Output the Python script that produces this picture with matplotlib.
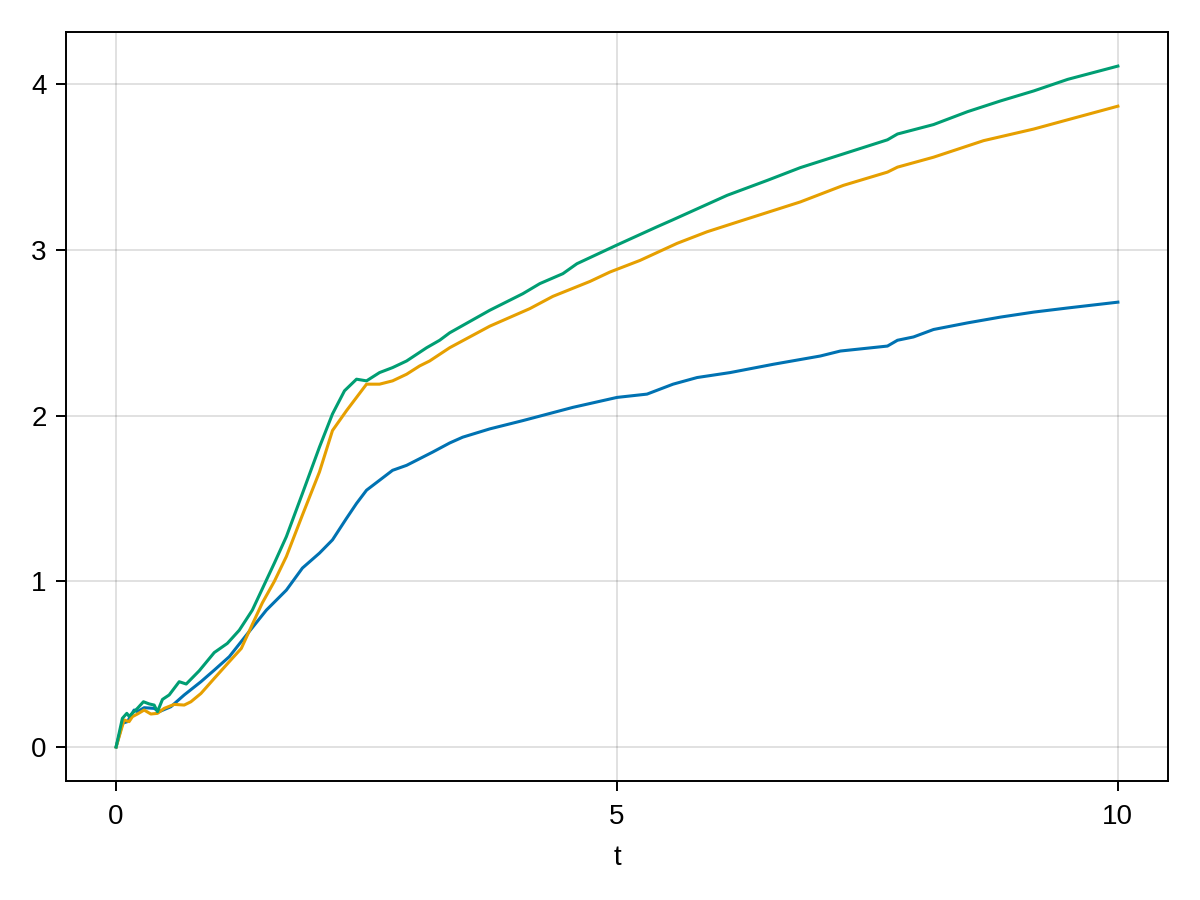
import matplotlib
matplotlib.use("Agg")
import matplotlib.pyplot as plt

# Three solution curves (each has its own time points)
t_blue = [0, 0.063, 0.113, 0.18, 0.213, 0.28, 0.38, 0.43, 0.547, 0.68, 0.847, 0.98,
          1.13, 1.30, 1.50, 1.70, 1.86, 2.03, 2.16, 2.30, 2.40, 2.50, 2.63, 2.76,
          2.90, 3.03, 3.16, 3.33, 3.46, 3.73, 4.06, 4.56, 5.0, 5.30, 5.56, 5.80,
          6.13, 6.56, 7.03, 7.23, 7.70, 7.80, 7.96, 8.16, 8.50, 8.83, 9.16, 9.50, 10.0]
y_blue = [0, 0.143, 0.153, 0.223, 0.213, 0.237, 0.233, 0.213, 0.243, 0.314, 0.394, 0.464,
          0.545, 0.675, 0.826, 0.947, 1.08, 1.17, 1.25, 1.38, 1.47, 1.55, 1.61, 1.67,
          1.70, 1.74, 1.78, 1.835, 1.87, 1.92, 1.97, 2.05, 2.11, 2.13, 2.19, 2.23,
          2.26, 2.31, 2.36, 2.39, 2.42, 2.455, 2.475, 2.52, 2.56, 2.595, 2.625, 2.65, 2.685]

t_orange = [0, 0.08, 0.13, 0.163, 0.213, 0.28, 0.347, 0.413, 0.48, 0.58, 0.68, 0.747,
            0.847, 0.98, 1.13, 1.25, 1.36, 1.46, 1.58, 1.70, 1.86, 2.03, 2.16, 2.30,
            2.50, 2.63, 2.76, 2.90, 3.03, 3.13, 3.23, 3.33, 3.73, 4.13, 4.36, 4.73,
            4.93, 5.23, 5.60, 5.90, 6.26, 6.83, 7.26, 7.70, 7.80, 8.16, 8.66, 9.16,
            9.50, 10.0]
y_orange = [0, 0.163, 0.153, 0.183, 0.199, 0.223, 0.199, 0.203, 0.233, 0.257, 0.253, 0.273,
            0.323, 0.414, 0.515, 0.595, 0.74, 0.87, 1.00, 1.15, 1.40, 1.66, 1.91, 2.03,
            2.19, 2.19, 2.21, 2.25, 2.30, 2.33, 2.37, 2.41, 2.54, 2.646, 2.72, 2.81,
            2.867, 2.937, 3.04, 3.11, 3.18, 3.29, 3.39, 3.47, 3.50, 3.56, 3.66, 3.73,
            3.786, 3.868]

t_green = [0, 0.063, 0.107, 0.13, 0.213, 0.273, 0.33, 0.38, 0.413, 0.463, 0.53, 0.63,
           0.70, 0.83, 0.98, 1.11, 1.23, 1.36, 1.58, 1.70, 1.86, 2.03, 2.16, 2.28,
           2.40, 2.50, 2.63, 2.76, 2.90, 3.10, 3.23, 3.33, 3.73, 4.06, 4.23, 4.46,
           4.60, 5.0, 5.40, 5.55, 6.1, 6.5, 6.83, 7.26, 7.70, 7.80, 8.16, 8.50, 8.83,
           9.16, 9.50, 10.0]
y_green = [0, 0.173, 0.203, 0.185, 0.233, 0.273, 0.26, 0.253, 0.213, 0.287, 0.314, 0.394,
           0.38, 0.46, 0.57, 0.625, 0.705, 0.826, 1.11, 1.27, 1.53, 1.81, 2.01, 2.15,
           2.22, 2.21, 2.26, 2.29, 2.33, 2.41, 2.455, 2.50, 2.636, 2.736, 2.797, 2.857,
           2.917, 3.03, 3.14, 3.18, 3.33, 3.42, 3.497, 3.58, 3.665, 3.70, 3.757, 3.835, 3.90,
           3.96, 4.03, 4.11]

xticks = [0, 5, 10]
yticks = [0, 1, 2, 3, 4]

plt.rcParams["font.family"] = ["Liberation Sans", "DejaVu Sans"]

fig = plt.figure(figsize=(12, 9), dpi=100)
ax = fig.add_axes([0.055, 0.1322, 0.9183, 0.8322])

lw = 2.2
ax.plot(t_blue, y_blue, color="#0072B2", lw=lw)
ax.plot(t_orange, y_orange, color="#E69F00", lw=lw)
ax.plot(t_green, y_green, color="#009E73", lw=lw)

ax.set_xlim(-0.5, 10.5)
ax.set_ylim(-0.2055, 4.3155)
ax.set_xticks(xticks)
ax.set_yticks(yticks)
ax.grid(True, color="#000000", alpha=0.12, lw=1.4)
ax.set_axisbelow(True)
for s in ax.spines.values():
    s.set_linewidth(1.4)
ax.tick_params(direction="out", length=7, width=1.4, labelsize=20)
ax.tick_params(axis="x", pad=9.5)
ax.tick_params(axis="y", pad=7)
ax.set_xlabel("t", fontsize=20, labelpad=11)

fig.savefig("out.png", dpi=100)
